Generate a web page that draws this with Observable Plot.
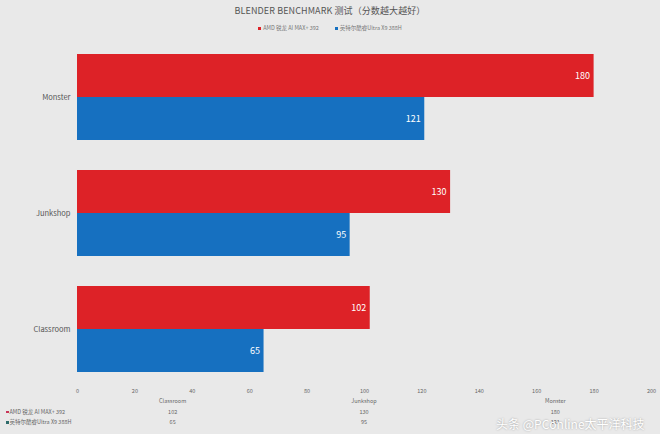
<!DOCTYPE html>
<html><head><meta charset="utf-8">
<script src="https://cdn.jsdelivr.net/npm/d3@7"></script>
<script src="https://cdn.jsdelivr.net/npm/@observablehq/plot@0.6"></script>
<style>
html,body{margin:0;padding:0}
body{background:#e9e9e9;font-family:"Noto Sans CJK SC","Noto Sans",sans-serif;width:660px;height:434px;overflow:hidden;position:relative}
#title{position:absolute;top:4px;left:0;width:660px;text-align:center;font-size:9px;color:#555;letter-spacing:0.1px}
#legend{position:absolute;top:24px;left:0;width:660px;text-align:center;font-size:5.5px;color:#777}
#legend span{margin:0 8px}
#legend i{display:inline-block;width:3px;height:3px;margin-right:2px;vertical-align:middle}
#chart{position:absolute;top:40px;left:0}
#table{position:absolute;top:397px;left:0;width:660px;font-size:5.5px;color:#666}
.row{position:relative;height:10.5px}
.cell{position:absolute;text-align:center;width:191px}
.lab{position:absolute;left:6px}
.lab i{display:inline-block;width:2.5px;height:2.5px;margin-right:1px;vertical-align:middle}
#wm{position:absolute;left:496px;top:417px;font-size:12px;line-height:14px;color:#fff;text-shadow:0 0 2px rgba(0,0,0,0.35);white-space:nowrap}
</style></head>
<body>
<div id="title"></div>
<div id="legend"></div>
<div id="chart"></div>
<div id="table"></div>
<div id="wm">头条 @PConline太平洋科技</div>
<script>
const titleText = "BLENDER BENCHMARK 测试（分数越大越好）";
const categories = ["Monster", "Junkshop", "Classroom"];
const seriesNames = ["AMD 锐龙 AI MAX+ 392", "英特尔酷睿Ultra X9 388H"];
const amdValues = [180, 130, 102];
const intelValues = [121, 95, 65];
const seriesColors = ["#dd2227", "#1670c0"];
const xTicks = [0, 20, 40, 60, 80, 100, 120, 140, 160, 180, 200];
const tableOrder = ["Classroom", "Junkshop", "Monster"];

document.getElementById("title").textContent = titleText;
document.getElementById("legend").innerHTML = seriesNames.map((s, i) =>
  `<span><i style="background:${seriesColors[i]}"></i>${s}</span>`).join("");

const rows = categories.flatMap((c, i) => [
  {cat: c, series: seriesNames[0], value: amdValues[i]},
  {cat: c, series: seriesNames[1], value: intelValues[i]}
]);

const chart = Plot.plot({
  width: 660,
  height: 360,
  marginTop: 14,
  marginBottom: 28,
  marginLeft: 77,
  marginRight: 9,
  style: {background: "transparent", fontFamily: "'Noto Sans CJK SC','Noto Sans',sans-serif"},
  x: {domain: [0, 200]},
  fy: {domain: categories, paddingInner: 0.26, paddingOuter: 0, label: null},
  y: {domain: seriesNames, padding: 0, axis: null},
  color: {domain: seriesNames, range: seriesColors},
  marks: [
    Plot.barX(rows, {x: "value", y: "series", fy: "cat", fill: "series"}),
    Plot.text(rows, {x: "value", y: "series", fy: "cat", text: d => String(d.value),
      textAnchor: "end", dx: -4, fill: "white", fontSize: 9}),
    Plot.axisX({anchor: "bottom", ticks: xTicks, tickSize: 0, tickPadding: 17, fontSize: 5.5, fill: "#666", label: null}),
    Plot.axisFy({anchor: "left", tickSize: 0, tickPadding: 7, fontSize: 7.5, fill: "#555", label: null})
  ]
});
document.getElementById("chart").appendChild(chart);

// data table below the axis
const xs = d3.scaleLinear().domain([0, 3]).range([77, 651]);
const colW = xs(1) - xs(0);
const byCat = Object.fromEntries(categories.map((c, i) => [c, [amdValues[i], intelValues[i]]]));
let html = `<div class="row">` + tableOrder.map((c, j) =>
  `<div class="cell" style="left:${xs(j)}px;width:${colW}px">${c}</div>`).join("") + `</div>`;
seriesNames.forEach((s, k) => {
  html += `<div class="row" style="${k===1?'height:11px':''}"><span class="lab"><i style="background:${k===0?'#c8345a':'#2e6b6b'}"></i>${s}</span>` +
    tableOrder.map((c, j) => `<div class="cell" style="left:${xs(j)}px;width:${colW}px">${byCat[c][k]}</div>`).join("") + `</div>`;
});
document.getElementById("table").innerHTML = html;
</script>
</body></html>
